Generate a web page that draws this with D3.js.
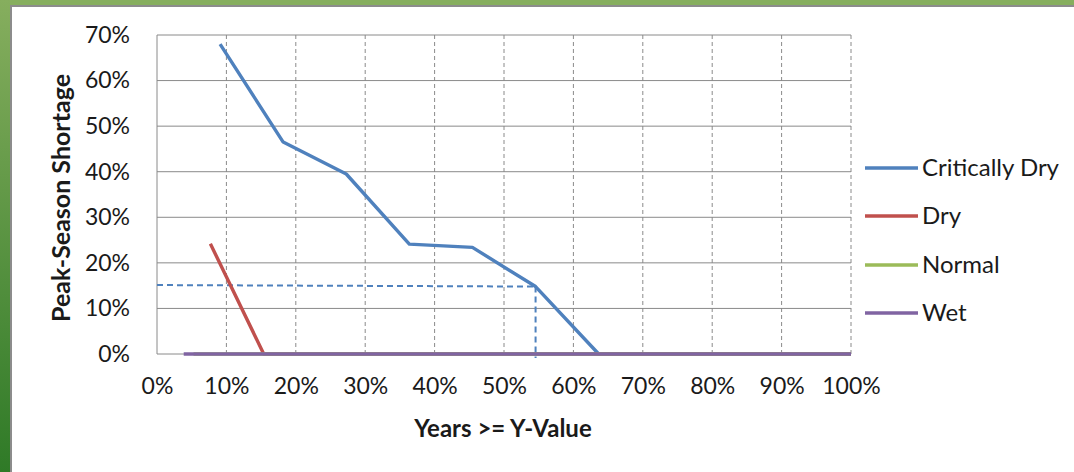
<!DOCTYPE html>
<html>
<head>
<meta charset="utf-8">
<script src="https://cdn.jsdelivr.net/npm/d3@7"></script>
<style>
  html, body { margin: 0; padding: 0; background: #fff; }
  svg { display: block; }
  text { font-family: Lato, "Open Sans", sans-serif; fill: #1a1a1a; }
</style>
</head>
<body>
<svg id="chart" width="1074" height="472"></svg>
<script>
// Exceedance probability (share of years) and peak-season shortage
const seriesNames = ["Critically Dry", "Dry", "Normal", "Wet"];
const seriesColors = ["#4F81BD", "#C0504D", "#9BBB59", "#8064A2"];

const criticallyDryX = [0.0909, 0.1818, 0.2727, 0.3636, 0.4545, 0.5455, 0.6364, 1.0];
const criticallyDryY = [0.68, 0.465, 0.395, 0.241, 0.234, 0.148, 0.0, 0.0];

const dryX = [0.0769, 0.1538, 1.0];
const dryY = [0.242, 0.0, 0.0];

const normalX = [0.0526, 1.0];
const normalY = [0.0, 0.0];

const wetX = [0.0385, 1.0];
const wetY = [0.0, 0.0];

// Reading guide: 15% shortage exceeded in ~54.5% of years
const guideX = [0.5455];
const guideY = [0.148];

const xTicks = [0, 0.1, 0.2, 0.3, 0.4, 0.5, 0.6, 0.7, 0.8, 0.9, 1.0];
const yTicks = [0, 0.1, 0.2, 0.3, 0.4, 0.5, 0.6, 0.7];

const svg = d3.select("#chart");
const W = 1074, H = 472;

// slide-style frame: green band on top and left, thin grey inner edge
const grad = svg.append("defs").append("linearGradient")
  .attr("id", "leftBand").attr("x1", 0).attr("y1", 0).attr("x2", 0).attr("y2", 1);
grad.append("stop").attr("offset", "0%").attr("stop-color", "#86ae5e");
grad.append("stop").attr("offset", "100%").attr("stop-color", "#2f7a27");
svg.append("rect").attr("x", 0).attr("y", 0).attr("width", W).attr("height", 5).attr("fill", "#86ae5e");
svg.append("rect").attr("x", 0).attr("y", 0).attr("width", 10).attr("height", H).attr("fill", "url(#leftBand)");
svg.append("rect").attr("x", 10).attr("y", 5).attr("width", W - 10).attr("height", 2).attr("fill", "#8c8c8c");
svg.append("rect").attr("x", 10).attr("y", 5).attr("width", 2).attr("height", H - 5).attr("fill", "#8c8c8c");
svg.append("rect").attr("x", 12).attr("y", 7).attr("width", W - 12).attr("height", H - 7).attr("fill", "#fff");

const plot = { left: 157, right: 851, top: 35, bottom: 354 };
const x = d3.scaleLinear().domain([0, 1]).range([plot.left, plot.right]);
const y = d3.scaleLinear().domain([0, 0.7]).range([plot.bottom, plot.top]);

const g = svg.append("g");

// vertical dashed gridlines
g.append("g").selectAll("line").data(xTicks.filter(d => d > 0)).join("line")
  .attr("x1", d => x(d)).attr("x2", d => x(d))
  .attr("y1", plot.top).attr("y2", plot.bottom)
  .attr("stroke", "#8a8a8a").attr("stroke-width", 1)
  .attr("stroke-dasharray", "4,3");

// horizontal solid gridlines
g.append("g").selectAll("line").data(yTicks.filter(d => d > 0)).join("line")
  .attr("x1", plot.left).attr("x2", plot.right)
  .attr("y1", d => y(d)).attr("y2", d => y(d))
  .attr("stroke", "#8a8a8a").attr("stroke-width", 1);

// axes lines
g.append("line").attr("x1", plot.left).attr("x2", plot.left)
  .attr("y1", plot.top).attr("y2", plot.bottom).attr("stroke", "#8a8a8a");
g.append("line").attr("x1", plot.left).attr("x2", plot.right)
  .attr("y1", plot.bottom).attr("y2", plot.bottom).attr("stroke", "#8a8a8a");

// tick labels via d3 axes
const yAxis = d3.axisLeft(y).tickValues(yTicks).tickFormat(d3.format(".0%")).tickSize(0).tickPadding(27);
const yAxisG = svg.append("g").attr("transform", `translate(${plot.left},0)`).call(yAxis);
const xAxis = d3.axisBottom(x).tickValues(xTicks).tickFormat(d3.format(".0%")).tickSize(0).tickPadding(24);
const xAxisG = svg.append("g").attr("transform", `translate(0,${plot.bottom})`).call(xAxis);
[yAxisG, xAxisG].forEach(a => {
  a.select(".domain").remove();
  a.selectAll("text").attr("font-size", 23).attr("font-family", "Lato, sans-serif").attr("fill", "#1a1a1a");
});

// reading guide lines
const guide = svg.append("g").attr("stroke", seriesColors[0]).attr("stroke-width", 2)
  .attr("stroke-dasharray", "6,4").attr("fill", "none");
guide.append("line").attr("x1", x(0)).attr("x2", x(guideX[0]))
  .attr("y1", y(guideY[0]) - 1.5).attr("y2", y(guideY[0]));
guide.append("line").attr("x1", x(guideX[0])).attr("x2", x(guideX[0]))
  .attr("y1", y(guideY[0])).attr("y2", plot.bottom + 4);

// series
const series = [
  { xs: criticallyDryX, ys: criticallyDryY },
  { xs: dryX, ys: dryY },
  { xs: normalX, ys: normalY },
  { xs: wetX, ys: wetY }
];
const line = d3.line().x(d => x(d[0])).y(d => y(d[1]));
series.forEach((s, i) => {
  svg.append("path")
    .datum(s.xs.map((v, k) => [v, s.ys[k]]))
    .attr("d", line)
    .attr("fill", "none")
    .attr("stroke", seriesColors[i])
    .attr("stroke-width", 3.4)
    .attr("stroke-linejoin", "round");
});

// legend
const legendY = [168, 216, 265, 313];
const lg = svg.append("g");
seriesNames.forEach((name, i) => {
  lg.append("line").attr("x1", 865).attr("x2", 918)
    .attr("y1", legendY[i]).attr("y2", legendY[i])
    .attr("stroke", seriesColors[i]).attr("stroke-width", 3.4);
  lg.append("text").attr("x", 922).attr("y", legendY[i])
    .attr("dy", "0.35em").attr("font-size", 24).text(name);
});

// axis titles
svg.append("text")
  .attr("transform", `translate(70,198) rotate(-90)`)
  .attr("text-anchor", "middle").attr("font-size", 25).attr("font-weight", "bold")
  .text("Peak-Season Shortage");
svg.append("text")
  .attr("x", 503).attr("y", 429).attr("dy", "0.35em")
  .attr("text-anchor", "middle").attr("font-size", 24).attr("font-weight", "bold")
  .text("Years >= Y-Value");
</script>
</body>
</html>
